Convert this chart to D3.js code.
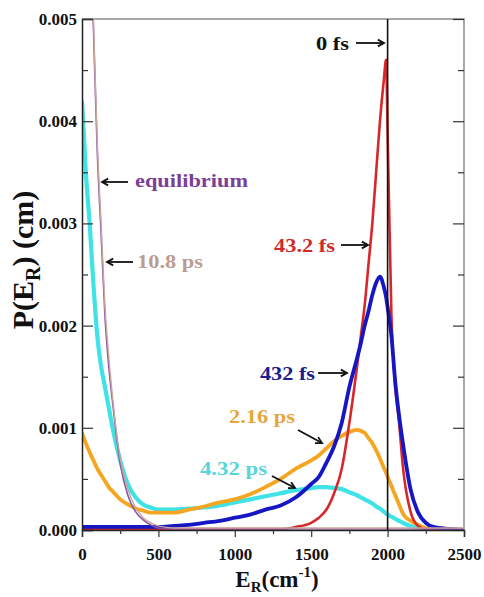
<!DOCTYPE html>
<html>
<head>
<meta charset="utf-8">
<script src="https://cdn.jsdelivr.net/npm/d3@7"></script>
<style>
  body { margin: 0; background: #fff; }
  svg { display: block; }
  text { font-family: "Liberation Serif", "Times New Roman", serif; font-weight: bold; }
</style>
</head>
<body>
<div id="chart"></div>
<script>
// energy grid (cm^-1) shared by all curves
var energies = [0, 25, 50, 75, 100, 125, 150, 175, 200, 250, 300, 350, 400, 450, 500,
    600, 700, 800, 900, 1000, 1100, 1200, 1300, 1400, 1500, 1550, 1600, 1650, 1700, 1750,
    1800, 1825, 1850, 1875, 1900, 1925, 1950, 1975, 1990, 2000, 2025, 2050, 2075, 2100,
    2150, 2200, 2250, 2300, 2400, 2500];

// P(E_R) in cm
var equilibrium = [0.0085, 0.0073, 0.0061, 0.0049, 0.0037, 0.0029, 0.0021, 0.0016, 0.00125, 0.00065, 0.00034, 0.00018, 0.0001, 0.00005, 0.00002,
    0.00001, 0.00001, 0.00001, 0.00001, 0.00001, 0.00001, 0.00001, 0.00001, 0.00001, 0.00001, 0.00001, 0.00001, 0.00001, 0.00001, 0.00001,
    0.00001, 0.00001, 0.00001, 0.00001, 0.00001, 0.00001, 0.00001, 0.00001, 0.00001, 0.00001, 0.00001, 0.00001, 0.00001, 0.00001,
    0.00001, 0.00001, 0.00001, 0.00001, 0.00001, 0.00001];
var ps10_8 = [0.0086, 0.0074, 0.0062, 0.005, 0.0038, 0.003, 0.0022, 0.0017, 0.0013, 0.0007, 0.0004, 0.00022, 0.00012, 0.00007, 0.00004,
    0.00002, 0.00002, 0.00002, 0.00002, 0.00002, 0.00002, 0.00002, 0.00002, 0.00002, 0.00002, 0.00002, 0.00002, 0.00002, 0.00002, 0.00002,
    0.00002, 0.00002, 0.00002, 0.00002, 0.00002, 0.00002, 0.00002, 0.00002, 0.00002, 0.00002, 0.00002, 0.00002, 0.00002, 0.00002,
    0.00002, 0.00002, 0.00002, 0.00002, 0.00002, 0.00002];
var ps4_32 = [0.0042, 0.0035, 0.003, 0.0024, 0.0019, 0.0016, 0.0014, 0.0012, 0.001, 0.00068, 0.00045, 0.00032, 0.00025, 0.00022, 0.0002,
    0.0002, 0.00021, 0.00022, 0.00024, 0.00027, 0.0003, 0.00033, 0.00036, 0.00039, 0.00041, 0.00042, 0.00042, 0.00041, 0.0004, 0.00037,
    0.00034, 0.00032, 0.0003, 0.00028, 0.00026, 0.00023, 0.00021, 0.00018, 0.00016, 0.00015, 0.00013, 0.00011, 0.00009, 0.00007,
    0.00004, 0.00002, 0.00001, 0.00001, 0.00001, 0];
var ps2_16 = [0.00095, 0.00085, 0.00076, 0.00068, 0.0006, 0.00054, 0.00048, 0.00042, 0.00038, 0.0003, 0.00025, 0.00021, 0.00019, 0.00017, 0.00017,
    0.00017, 0.0002, 0.00023, 0.00027, 0.0003, 0.00035, 0.00042, 0.0005, 0.0006, 0.00068, 0.00073, 0.0008, 0.00087, 0.00092, 0.00096,
    0.00098, 0.00097, 0.00095, 0.0009, 0.00085, 0.00078, 0.0007, 0.00061, 0.00056, 0.00052, 0.00043, 0.00034, 0.00025, 0.00016,
    0.00009, 0.00005, 0.00002, 0.00001, 0, 0];
var fs432 = [0.00003, 0.00003, 0.00003, 0.00003, 0.00003, 0.00003, 0.00003, 0.00003, 0.00003, 0.00003, 0.00003, 0.00003, 0.00003, 0.00003, 0.00003,
    0.00004, 0.00005, 0.00007, 0.00009, 0.00012, 0.00015, 0.0002, 0.00024, 0.00032, 0.00045, 0.00052, 0.00066, 0.00082, 0.00105, 0.0014,
    0.00168, 0.00183, 0.002, 0.00214, 0.0023, 0.00242, 0.00248, 0.00238, 0.00228, 0.00218, 0.0019, 0.00145, 0.00112, 0.00085,
    0.0004, 0.00017, 0.00007, 0.00003, 0.00001, 0];
var fs43_2 = [0.00001, 0.00001, 0.00001, 0.00001, 0.00001, 0.00001, 0.00001, 0.00001, 0.00001, 0.00001, 0.00001, 0.00001, 0.00001, 0.00001, 0.00001,
    0.00001, 0.00001, 0.00001, 0.00001, 0.00001, 0.00001, 0.00001, 0.00001, 0.00003, 0.00007, 0.00012, 0.0002, 0.00036, 0.0006, 0.00105,
    0.0016, 0.0019, 0.0022, 0.0026, 0.003, 0.0035, 0.004, 0.0044, 0.0046, 0.0039, 0.0021, 0.0014, 0.00105, 0.00062,
    0.00018, 0.00004, 0.00001, 0.00001, 0.00001, 0];

var xTicks = [0, 500, 1000, 1500, 2000, 2500];
var xMinor = [250, 750, 1250, 1750, 2250];
var yTicks = [0, 0.001, 0.002, 0.003, 0.004, 0.005];
var yMinor = [0.0005, 0.0015, 0.0025, 0.0035, 0.0045];

var width = 484, height = 597;
var margin = {left: 82, top: 19, right: 20, bottom: 67};
var w = width - margin.left - margin.right,
    h = height - margin.top - margin.bottom;

var svg = d3.select("#chart").append("svg")
    .attr("width", width)
    .attr("height", height);

var x = d3.scaleLinear().domain([0, 2500]).range([0, w]);
var y = d3.scaleLinear().domain([0, 0.005]).range([h, 0]);

var g = svg.append("g").attr("transform", "translate(" + margin.left + "," + margin.top + ")");

g.append("clipPath").attr("id", "plot-clip")
  .append("rect").attr("width", w).attr("height", h);

// frame: top and right lines are grey
g.append("path")
    .attr("d", "M0,0H" + w + "V" + h)
    .attr("fill", "none")
    .attr("stroke", "#8a8a8a")
    .attr("stroke-width", 1.5);

// thick strokes stand in for the noisy bands of the simulation data
var series = [
    {name: "4.32 ps", values: ps4_32, color: "#3fe3e6", sw: 4.2},
    {name: "2.16 ps", values: ps2_16, color: "#f5a51f", sw: 3.8},
    {name: "43.2 fs", values: fs43_2, color: "#d6282a", sw: 2.6},
    {name: "432 fs", values: fs432, color: "#1616c4", sw: 3.8},
    {name: "equilibrium", values: equilibrium, color: "#8c56a6", sw: 1.6},
    {name: "10.8 ps", values: ps10_8, color: "#c9a79b", sw: 1.4}
];

var line = d3.line()
    .x(function(d) { return x(d[0]); })
    .y(function(d) { return y(d[1]); })
    .curve(d3.curveMonotoneX);

var curves = g.append("g").attr("clip-path", "url(#plot-clip)");

series.forEach(function(s) {
    var pts = energies.map(function(e, i) { return [e, s.values[i]]; });
    curves.append("path")
        .datum(pts)
        .attr("fill", "none")
        .attr("stroke", s.color)
        .attr("stroke-width", s.sw)
        .attr("stroke-linejoin", "round")
        .attr("d", line);
});

// 0 fs: delta at 2000 cm^-1
g.append("line")
    .attr("x1", x(2000)).attr("x2", x(2000))
    .attr("y1", 0).attr("y2", h)
    .attr("stroke", "#111")
    .attr("stroke-width", 1.6);

// axes
g.append("g")
    .call(d3.axisLeft(y).tickValues(yTicks).tickSize(-11).tickPadding(5).tickFormat(d3.format(".3f")));
g.append("g")
    .call(d3.axisLeft(y).tickValues(yMinor).tickSize(-6).tickFormat(""))
    .select(".domain").remove();
g.append("g")
    .attr("transform", "translate(" + w + ",0)")
    .call(d3.axisRight(y).tickValues(yTicks).tickSize(-11).tickFormat(""))
    .select(".domain").remove();
g.append("g")
    .attr("transform", "translate(" + w + ",0)")
    .call(d3.axisRight(y).tickValues(yMinor).tickSize(-6).tickFormat(""))
    .select(".domain").remove();

g.append("g")
    .attr("transform", "translate(0," + h + ")")
    .call(d3.axisBottom(x).tickValues(xTicks).tickSize(7).tickPadding(11).tickFormat(d3.format("d")));
g.append("g")
    .attr("transform", "translate(0," + h + ")")
    .call(d3.axisBottom(x).tickValues(xMinor).tickSize(4).tickFormat(""))
    .select(".domain").remove();

g.selectAll(".domain").attr("stroke", "#222").attr("stroke-width", 1.5);
g.selectAll(".tick line").attr("stroke", "#333").attr("stroke-width", 1.2);
g.selectAll(".tick text")
    .attr("font-family", "'Liberation Serif', 'Times New Roman', serif")
    .attr("font-weight", "bold")
    .attr("font-size", 17)
    .attr("fill", "#111");

// axis titles
var yTitle = svg.append("text")
    .attr("transform", "translate(33,260) rotate(-90)")
    .attr("text-anchor", "middle")
    .attr("font-size", 30)
    .attr("fill", "#111");
yTitle.append("tspan").text("P(E");
yTitle.append("tspan").attr("font-size", 20).attr("dy", 7).text("R");
yTitle.append("tspan").attr("dy", -7).text(") (cm)");

var xTitle = svg.append("text")
    .attr("x", 277).attr("y", 587)
    .attr("text-anchor", "middle")
    .attr("font-size", 23)
    .attr("fill", "#111");
xTitle.append("tspan").text("E");
xTitle.append("tspan").attr("font-size", 15).attr("dy", 5).text("R");
xTitle.append("tspan").attr("dy", -5).text("(cm");
xTitle.append("tspan").attr("font-size", 15).attr("dy", -10).text("-1");
xTitle.append("tspan").attr("dy", 10).text(")");

// curve labels with arrows
var labels = [
    {text: "0 fs", x: 316, y: 50, len: 33, color: "#111", a: [356, 43, 384, 43]},
    {text: "43.2 fs", x: 274, y: 252, len: 61, color: "#cf2a2c", a: [341, 245, 368, 245]},
    {text: "432 fs", x: 260, y: 380, len: 55, color: "#1c1c8e", a: [318, 373, 347, 373]},
    {text: "2.16 ps", x: 229, y: 423, len: 66, color: "#e6a63e", a: [298, 430, 322, 443]},
    {text: "4.32 ps", x: 200, y: 475, len: 67, color: "#55d6dd", a: [272, 476, 295, 488]},
    {text: "equilibrium", x: 135, y: 187, len: 113, color: "#7b3f98", a: [128, 182, 102, 182]},
    {text: "10.8 ps", x: 137, y: 268, len: 66, color: "#b99c92", a: [133, 262, 107, 262]}
];

labels.forEach(function(l) {
    svg.append("text")
        .attr("x", l.x).attr("y", l.y)
        .attr("font-size", 19)
        .attr("fill", l.color)
        .attr("textLength", l.len)
        .attr("lengthAdjust", "spacingAndGlyphs")
        .text(l.text);

    var x1 = l.a[0], y1 = l.a[1], x2 = l.a[2], y2 = l.a[3];
    var ang = Math.atan2(y2 - y1, x2 - x1), hl = 7, spread = 0.5;
    svg.append("line")
        .attr("x1", x1).attr("y1", y1).attr("x2", x2).attr("y2", y2)
        .attr("stroke", "#111").attr("stroke-width", 1.8);
    svg.append("path")
        .attr("d", "M" + (x2 - hl * Math.cos(ang - spread)) + "," + (y2 - hl * Math.sin(ang - spread)) +
            "L" + x2 + "," + y2 +
            "L" + (x2 - hl * Math.cos(ang + spread)) + "," + (y2 - hl * Math.sin(ang + spread)))
        .attr("fill", "none")
        .attr("stroke", "#111")
        .attr("stroke-width", 1.8);
});
</script>
</body>
</html>
